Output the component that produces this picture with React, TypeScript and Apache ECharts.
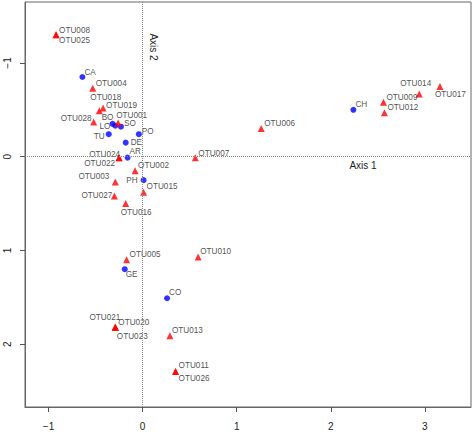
import React, { useEffect, useRef } from "react";
import * as echarts from "echarts";

// Species (OTU) scores
const otuNames = [
  "OTU001", "OTU002", "OTU003", "OTU004", "OTU005", "OTU006", "OTU007",
  "OTU008", "OTU009", "OTU010", "OTU011", "OTU012", "OTU013", "OTU014",
  "OTU015", "OTU016", "OTU017", "OTU018", "OTU019", "OTU020", "OTU021",
  "OTU022", "OTU023", "OTU024", "OTU025", "OTU026", "OTU027", "OTU028",
];
const otuX = [
  -0.26, -0.08, -0.29, -0.53, -0.17, 1.26, 0.56,
  -0.92, 2.56, 0.59, 0.35, 2.57, 0.29, 2.94,
  0.01, -0.18, 3.16, -0.46, -0.42, -0.29, -0.29,
  -0.25, -0.29, -0.25, -0.92, 0.35, -0.3, -0.52,
];
const otuY = [
  -0.36, 0.15, 0.27, -0.73, 1.1, -0.3, 0.01,
  -1.3, -0.58, 1.07, 2.29, -0.47, 1.91, -0.67,
  0.38, 0.5, -0.75, -0.49, -0.52, 1.82, 1.82,
  0.01, 1.82, 0.01, -1.3, 2.29, 0.42, -0.37,
];

// Site scores
const siteNames = ["AR", "BO", "CA", "CH", "CO", "DE", "GE", "LO", "PH", "PO", "SO", "TU"];
const siteX = [-0.16, -0.32, -0.64, 2.24, 0.26, -0.18, -0.19, -0.29, 0.01, -0.04, -0.23, -0.36];
const siteY = [0.01, -0.35, -0.85, -0.5, 1.51, -0.15, 1.2, -0.33, 0.25, -0.24, -0.32, -0.24];

// Tick values
const xTicks = [-1, 0, 1, 2, 3];
const yTicks = [-1, 0, 1, 2];

// Label placement (pixel offset from point, text alignment)
const labelPlace: Record<string, [number, number, string]> = {
  OTU001: [-2, -7, "left"], OTU002: [3, -5, "left"], OTU003: [-6, -6, "right"],
  OTU004: [3, -5, "left"], OTU005: [3, -5, "left"], OTU006: [3, -5, "left"],
  OTU007: [3, -4.5, "left"], OTU008: [3, -4.5, "left"], OTU009: [3, -5, "left"],
  OTU010: [2, -6, "left"], OTU011: [3, -6, "left"], OTU012: [3, -5, "left"],
  OTU013: [2, -5, "left"], OTU014: [-19, -10.5, "left"], OTU015: [3, -5.5, "left"],
  OTU016: [-5, 8.5, "left"], OTU017: [-5, 8.5, "left"], OTU018: [-9, -13, "left"],
  OTU019: [3, -2.5, "left"], OTU020: [3, -5, "left"], OTU021: [5, -10, "right"],
  OTU022: [-4, 6, "right"], OTU023: [1.5, 8.7, "left"], OTU024: [1, -3.5, "right"],
  OTU025: [3, 5.5, "left"], OTU026: [3, 7, "left"], OTU027: [-2, -0.5, "right"],
  OTU028: [-2, -4, "right"],
  AR: [2, -6, "left"], BO: [1, -6, "right"], CA: [2, -5, "left"], CH: [2, -5, "left"],
  CO: [2, -6, "left"], DE: [5, 0, "left"], GE: [1, 5, "left"], LO: [-5, 1, "right"],
  PH: [-6, 0, "right"], PO: [3, -3, "left"], SO: [3, -3, "left"], TU: [-4, 2, "right"],
};

const FONT = "'Liberation Sans', Arial, Helvetica, sans-serif";

function buildPoints(names: string[], xs: number[], ys: number[]) {
  return names.map((n, i) => {
    const p = labelPlace[n] || [3, -5, "left"];
    return {
      name: n,
      value: [xs[i], ys[i]],
      label: {
        show: true,
        position: "inside",
        offset: [p[0], p[1]],
        align: p[2],
        verticalAlign: "middle",
        formatter: n,
        color: "#222",
        fontSize: 8.2,
        fontFamily: FONT,
      },
    };
  });
}

const minusFmt = (v: number) => String(v).replace("-", "\u2212");

export default function App() {
  const ref = useRef<HTMLDivElement>(null);
  useEffect(() => {
    if (!ref.current) return;
    const chart = echarts.init(ref.current, null, { renderer: "svg" });
    const axisCommon = {
      type: "value" as const,
      splitLine: { show: false },
      axisLine: { show: true, onZero: false, lineStyle: { color: "#666", width: 1 } },
    };
    chart.setOption({
      animation: false,
      backgroundColor: "#fff",
      grid: {
        left: 25, right: 1, top: 2, bottom: 25,
        show: true, borderColor: "#666", borderWidth: 1,
      },
      xAxis: {
        ...axisCommon,
        min: -1.25,
        max: 3.49,
        axisTick: { show: true, length: 5, customValues: xTicks, lineStyle: { color: "#555" } },
        axisLabel: {
          customValues: xTicks,
          formatter: minusFmt,
          margin: 14,
          fontSize: 10,
          color: "#222",
          fontFamily: FONT,
        },
      },
      yAxis: {
        ...axisCommon,
        inverse: true,
        min: -1.65,
        max: 2.67,
        axisTick: { show: true, length: 5, customValues: yTicks, lineStyle: { color: "#555" } },
        axisLabel: {
          customValues: yTicks,
          formatter: minusFmt,
          rotate: 90,
          margin: 13,
          fontSize: 10,
          color: "#222",
          fontFamily: FONT,
        },
      },
      graphic: [
        {
          type: "text",
          x: 363,
          y: 165,
          style: {
            text: "Axis 1",
            fontSize: 10,
            fontFamily: FONT,
            fill: "#222",
            align: "center",
            verticalAlign: "middle",
          },
        },
        {
          type: "text",
          x: 153,
          y: 47,
          rotation: -Math.PI / 2,
          style: {
            text: "Axis 2",
            fontSize: 10,
            fontFamily: FONT,
            fill: "#222",
            align: "center",
            verticalAlign: "middle",
          },
        },
      ],
      series: [
        {
          type: "scatter",
          name: "sites",
          symbol: "circle",
          symbolSize: 6,
          itemStyle: { color: "#0000ff" },
          data: buildPoints(siteNames, siteX, siteY),
          markLine: {
            silent: true,
            symbol: ["none", "none"],
            label: { show: false },
            lineStyle: { type: "dotted", color: "#888", width: 1 },
            data: [{ xAxis: 0 }, { yAxis: 0 }],
          },
          z: 3,
        },
        {
          type: "scatter",
          name: "species",
          symbol: "triangle",
          symbolSize: 7,
          itemStyle: { color: "#ff0000" },
          data: buildPoints(otuNames, otuX, otuY),
          z: 4,
        },
      ],
    });
    return () => chart.dispose();
  }, []);
  return (
    <div
      ref={ref}
      style={{ position: "fixed", left: 0, top: 0, width: 472, height: 432, background: "#fff" }}
    />
  );
}
